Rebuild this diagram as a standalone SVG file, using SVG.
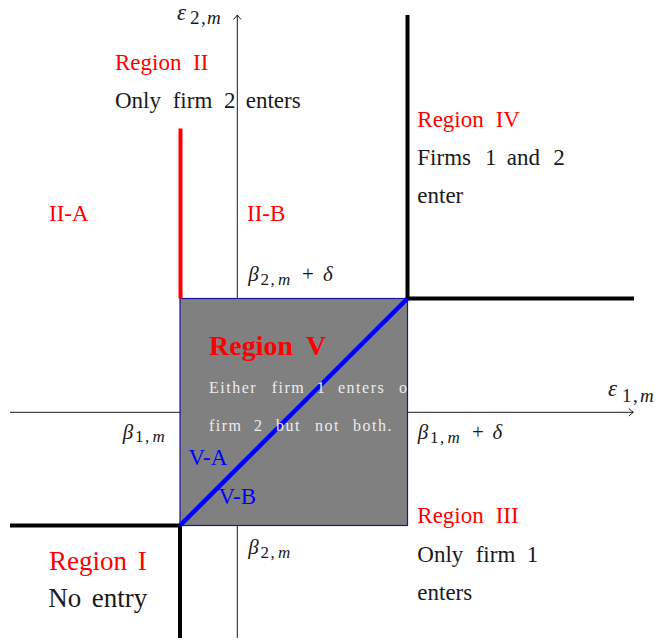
<svg xmlns="http://www.w3.org/2000/svg" width="660" height="640" viewBox="0 0 660 640">
<style>
  text{font-family:"Liberation Serif","Times New Roman",serif}
  .b{font-size:23px;fill:#1a1a1a}
  .r{fill:#ff0000}
  .big{font-size:27px}
  .m{font-size:21px;fill:#1a1a1a}
  .i{font-style:italic}
  .s{font-size:17px}
  .e{font-size:23px}
  .es{font-size:19px}
  .w{font-size:16px;fill:#ececec;letter-spacing:1.5px}
  .bl{font-size:23px;fill:#0000ff}
  .axis{stroke:#000;stroke-width:0.9;fill:none}
  .thick{stroke:#000;stroke-width:4;fill:none}
</style>
<defs>
  <marker id="arr" markerUnits="userSpaceOnUse" viewBox="-6 -5 7 10" refX="0" refY="0" markerWidth="7" markerHeight="10" orient="auto">
    <path d="M-4.5,-3.8 Q-1.8,-1.2 0,0 Q-1.8,1.2 -4.5,3.8" fill="none" stroke="#000" stroke-width="0.9"/>
  </marker>
  <clipPath id="vclip"><rect x="180" y="298.5" width="227.5" height="227"/></clipPath>
</defs>

<g id="connectors">
  <g id="axes">
    <line class="axis" x1="10" y1="412.3" x2="633.3" y2="412.3" marker-end="url(#arr)"/>
    <line class="axis" x1="237.3" y1="638" x2="237.3" y2="15" marker-end="url(#arr)"/>
  </g>
</g>

<g id="region-v">
  <rect x="180" y="298.5" width="227.5" height="227" fill="#808080" stroke="#1414a0" stroke-width="1.2"/>
</g>

<g id="boundaries">
  <path class="thick" d="M10,525.5 H180 V638"/>
  <path class="thick" d="M407.5,15 V298.5 H634"/>
  <line x1="180.5" y1="128.5" x2="180.5" y2="298.5" stroke="#ff0000" stroke-width="4"/>
  <line x1="180" y1="525.5" x2="407.5" y2="298.5" stroke="#0000ff" stroke-width="4.5"/>
</g>

<g id="axis-labels">
  <text class="m" y="20"><tspan x="177" class="i e">ε</tspan><tspan x="190" dy="4" class="es">2</tspan><tspan x="201" class="es">,</tspan><tspan x="207" class="i es">m</tspan></text>
  <text class="m" y="395.5"><tspan x="608" class="i e">ε</tspan><tspan x="622" dy="6" class="es">1</tspan><tspan x="633" class="es">,</tspan><tspan x="640" class="i es">m</tspan></text>
  <text class="m" y="281"><tspan x="248.3" class="i">β</tspan><tspan class="s" x="260.5" dy="3.5">2</tspan><tspan class="s" x="270.5">,</tspan><tspan class="s i" x="278">m</tspan><tspan x="302" dy="-3.5">+</tspan><tspan class="i" x="323">δ</tspan></text>
  <text class="m" y="438.5"><tspan x="122.7" class="i">β</tspan><tspan class="s" x="135" dy="3.5">1</tspan><tspan class="s" x="145">,</tspan><tspan class="s i" x="152.5">m</tspan></text>
  <text class="m" y="439.3"><tspan x="417.7" class="i">β</tspan><tspan class="s" x="430" dy="3.5">1</tspan><tspan class="s" x="440">,</tspan><tspan class="s i" x="447.5">m</tspan><tspan x="472" dy="-3.5">+</tspan><tspan class="i" x="492.5">δ</tspan></text>
  <text class="m" y="554"><tspan x="248.3" class="i">β</tspan><tspan class="s" x="260.5" dy="3.5">2</tspan><tspan class="s" x="270.5">,</tspan><tspan class="s i" x="278">m</tspan></text>
</g>

<g id="region-ii">
  <text class="b r" y="70"><tspan x="115">Region</tspan><tspan x="193">II</tspan></text>
  <text class="b" y="108"><tspan x="115">Only</tspan><tspan x="172.7">firm</tspan><tspan x="224">2</tspan><tspan x="245.7">enters</tspan></text>
  <text class="b r" x="49" y="221">II-A</text>
  <text class="b r" x="247" y="221">II-B</text>
</g>

<g id="region-iv">
  <text class="b r" y="126.5"><tspan x="417.3">Region</tspan><tspan x="495.7">IV</tspan></text>
  <text class="b" y="165"><tspan x="417.3">Firms</tspan><tspan x="485">1</tspan><tspan x="506.7">and</tspan><tspan x="553.3">2</tspan></text>
  <text class="b" x="417.3" y="203">enter</text>
</g>

<g id="region-v-labels">
  <text class="r" y="355" style="font-size:28px;font-weight:bold"><tspan x="209">Region</tspan><tspan x="306">V</tspan></text>
  <g clip-path="url(#vclip)">
    <text class="w" y="392.5"><tspan x="209">Either</tspan><tspan x="271.7">firm</tspan><tspan x="316.7">1</tspan><tspan x="338">enters</tspan><tspan x="399">or</tspan></text>
    <text class="w" y="430.7"><tspan x="209">firm</tspan><tspan x="254">2</tspan><tspan x="276">but</tspan><tspan x="315">not</tspan><tspan x="353">both.</tspan></text>
  </g>
  <text class="bl" x="188.5" y="465">V-A</text>
  <text class="bl" x="218.5" y="504">V-B</text>
</g>

<g id="region-iii">
  <text class="b r" y="523.3"><tspan x="417.3">Region</tspan><tspan x="495.7">III</tspan></text>
  <text class="b" y="562"><tspan x="417.3">Only</tspan><tspan x="475.7">firm</tspan><tspan x="526.7">1</tspan></text>
  <text class="b" x="417.3" y="600">enters</text>
</g>

<g id="region-i">
  <text class="b r big" y="570"><tspan x="49">Region</tspan><tspan x="137.7">I</tspan></text>
  <text class="b big" y="607"><tspan x="48.3">No</tspan><tspan x="91.7">entry</tspan></text>
</g>
</svg>
